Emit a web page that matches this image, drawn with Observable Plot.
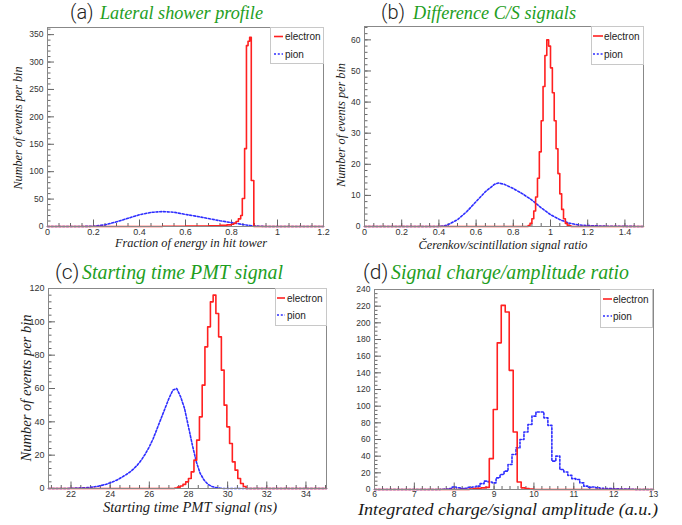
<!DOCTYPE html>
<html>
<head>
<meta charset="utf-8">
<script src="https://cdn.jsdelivr.net/npm/d3@7"></script>
<script src="https://cdn.jsdelivr.net/npm/@observablehq/plot@0.6"></script>
<style>
html,body{margin:0;padding:0;background:#fff;}
#chart{position:relative;width:682px;height:525px;overflow:hidden;background:#fff;}
#chart svg{position:absolute;}
</style>
</head>
<body>
<div id="chart"></div>
<script>
// ================= DATA =================
// ---- (a) Lateral shower profile ----
const aXTicks = [0, 0.2, 0.4, 0.6, 0.8, 1, 1.2];
const aYTicks = [0, 50, 100, 150, 200, 250, 300, 350];
const aElectronX = [0, 0.50, 0.60, 0.70, 0.75, 0.78, 0.80, 0.81, 0.82, 0.83, 0.84, 0.847, 0.857, 0.865, 0.872, 0.879, 0.886, 0.897, 1.2];
const aElectronY = [0, 0.5, 1, 1.5, 2, 3, 4, 6, 9, 14, 20, 51, 142, 330, 338, 345, 84, 0, 0];
const aPionX = [0, 0.15, 0.2, 0.25, 0.3, 0.35, 0.4, 0.45, 0.5, 0.55, 0.6, 0.65, 0.7, 0.75, 0.8, 0.85, 0.9, 0.95, 1.2];
const aPionY = [0, 0, 0.5, 3, 8.5, 15, 21.5, 25.7, 27.3, 26, 22, 18.5, 14.5, 10.5, 7, 3.6, 0.8, 0, 0];

// ---- (b) Difference C/S signals ----
const bXTicks = [0, 0.2, 0.4, 0.6, 0.8, 1, 1.2, 1.4];
const bYTicks = [0, 10, 20, 30, 40, 50, 60];
const bElectronX = [0, 0.88, 0.89, 0.90, 0.91, 0.92, 0.93, 0.94, 0.95, 0.96, 0.97, 0.98, 0.99, 1.00, 1.01, 1.02, 1.03, 1.04, 1.05, 1.06, 1.07, 1.08, 1.09, 1.10, 1.11, 1.5];
const bElectronY = [0, 0.3, 1, 2.5, 5, 9.5, 15.5, 24, 34, 45, 55, 60, 58, 51, 43, 34, 25, 17, 10.5, 5.5, 2.5, 1, 0.4, 0.2, 0, 0];
const bPionX = [0, 0.40, 0.43, 0.45, 0.5, 0.55, 0.6, 0.65, 0.7, 0.72, 0.75, 0.8, 0.85, 0.9, 0.95, 1.0, 1.05, 1.1, 1.15, 1.2, 1.3, 1.4, 1.5];
const bPionY = [0, 0, 0.2, 0.6, 2.2, 4.8, 8, 11.2, 13.6, 14, 13.6, 12.2, 10.5, 8.5, 6, 3.8, 2.2, 1.1, 0.5, 0.3, 0.1, 0.05, 0];

// ---- (c) Starting time PMT signal ----
const cXTicks = [22, 24, 26, 28, 30, 32, 34];
const cYTicks = [0, 20, 40, 60, 80, 100, 120];
const cElectronX = [20.85, 27.30, 27.44, 27.58, 27.72, 27.86, 28.00, 28.14, 28.28, 28.42, 28.56, 28.70, 28.84, 28.98, 29.12, 29.26, 29.40, 29.54, 29.68, 29.82, 29.96, 30.10, 30.24, 30.38, 30.52, 30.66, 30.80, 30.94, 35.05];
const cElectronY = [0, 0.3, 0.8, 1.5, 2.5, 4, 6, 10, 17, 29, 43, 62, 85, 97, 112, 116, 105, 91, 71, 50, 37, 27, 16, 11, 6, 3, 1.2, 0, 0];
const cPionX = [20.85, 21.8, 22.0, 22.2, 22.4, 22.6, 22.8, 23.0, 23.2, 23.4, 23.6, 23.8, 24.0, 24.2, 24.4, 24.6, 24.8, 25.0, 25.2, 25.4, 25.6, 25.8, 26.0, 26.2, 26.4, 26.6, 26.8, 27.0, 27.2, 27.4, 27.6, 27.8, 28.0, 28.2, 28.4, 28.6, 28.8, 29.0, 29.2, 29.4, 29.6, 29.8, 35.05];
const cPionY = [0, 0, 0.1, 0.2, 0.3, 0.4, 0.5, 0.7, 1.0, 1.4, 2.0, 2.6, 3.4, 4.3, 5.4, 6.8, 8.2, 9.8, 11.8, 14.2, 17.2, 20.8, 25, 30, 36, 42, 48, 54, 59, 60, 55, 48, 37, 26, 16, 9, 5, 2.5, 1.2, 0.5, 0.2, 0, 0];

// ---- (d) Signal charge/amplitude ratio ----
const dXTicks = [6, 7, 8, 9, 10, 11, 12, 13];
const dYTicks = [0, 20, 40, 60, 80, 100, 120, 140, 160, 180, 200, 220, 240];
const dElectronX = [6, 8.38, 8.48, 8.58, 8.68, 8.78, 8.88, 8.98, 9.08, 9.18, 9.28, 9.38, 9.48, 9.58, 9.68, 9.78, 9.88, 9.98, 13];
const dElectronY = [0, 0.5, 1, 1.5, 2, 2.5, 37, 96, 176, 221, 213, 143, 69, 9, 2, 1, 0.5, 0, 0];
const dPionX = [6, 7.6, 7.7, 7.8, 7.9, 8.0, 8.1, 8.2, 8.3, 8.4, 8.5, 8.6, 8.7, 8.8, 8.9, 9.0, 9.1, 9.2, 9.3, 9.4, 9.5, 9.6, 9.7, 9.8, 9.9, 10.0, 10.1, 10.2, 10.3, 10.4, 10.5, 10.6, 10.7, 10.8, 10.9, 11.0, 11.1, 11.2, 11.3, 11.4, 11.5, 11.6, 11.7, 11.8, 11.9, 12.0, 12.1, 12.2, 12.3, 12.4, 12.5, 12.6, 13];
const dPionY = [0, 0, 0.3, 0.5, 1, 3, 2, 1, 1.5, 2.5, 3, 4, 7, 10, 9, 8, 14, 18, 22, 30, 42, 50, 60, 69, 78, 88, 93, 93, 86, 77, 34, 40, 24, 21, 17, 13, 12, 8, 4, 2.5, 3, 2, 1.5, 1, 1, 0.8, 0.7, 0.6, 0.6, 0.4, 0.3, 0, 0];

// ---- texts ----
const titlePrefixes = ["(a)", "(b)", "(c)", "(d)"];
const titleTexts = ["Lateral shower profile", "Difference C/S signals", "Starting time PMT signal", "Signal charge/amplitude ratio"];
const xLabels = ["Fraction of energy in hit tower", "\u010Cerenkov/scintillation signal ratio", "Starting time PMT signal (ns)", "Integrated charge/signal amplitude (a.u.)"];
const yLabels = ["Number of events per bin", "Number of events per bin", "Number of events per bin", null];
const legendLabels = ["electron", "pion"];

// ================= STYLE / LAYOUT =================
const RED = "#ff2020", BLUE = "#2e2eff", GREEN = "#1e9e1e";
const serif = "'Liberation Serif','Times New Roman',serif";
const sans = "'Liberation Sans',Arial,sans-serif";
const root = document.getElementById("chart");

const panels = [
  {left: 0, top: 0, width: 341, height: 262, ml: 47, mr: 18, mt: 27, mb: 36,
   xDomain: [0, 1.2], yDomain: [0, 363], xTicks: aXTicks, yTicks: aYTicks,
   xMinor: d3.range(0, 1.2001, 0.05), yMinor: d3.range(0, 361, 10),
   elec: [aElectronX, aElectronY], pion: [aPionX, aPionY], pionCurve: "linear", yFont: 8.5, xFont: 9, xPad: 2.5},
  {left: 341, top: 0, width: 341, height: 262, ml: 23, mr: 39, mt: 26, mb: 36,
   xDomain: [0, 1.5], yDomain: [0, 64.3], xTicks: bXTicks, yTicks: bYTicks,
   xMinor: d3.range(0, 1.5001, 0.05), yMinor: d3.range(0, 64.1, 2),
   elec: [bElectronX, bElectronY], pion: [bPionX, bPionY], pionCurve: "linear", yFont: 8.5, xFont: 9, xPad: 2.5},
  {left: 0, top: 262, width: 341, height: 263, ml: 48, mr: 15, mt: 26, mb: 37,
   xDomain: [20.85, 35.05], yDomain: [0, 120], xTicks: cXTicks, yTicks: cYTicks,
   xMinor: d3.range(21, 35.01, 0.5), yMinor: d3.range(0, 120.1, 4),
   elec: [cElectronX, cElectronY], pion: [cPionX, cPionY], pionCurve: "linear", yFont: 9, xFont: 9, xPad: 2.5},
  {left: 341, top: 262, width: 341, height: 263, ml: 33, mr: 29, mt: 27, mb: 36,
   xDomain: [6, 13], yDomain: [0, 240], xTicks: dXTicks, yTicks: dYTicks,
   xMinor: d3.range(6, 13.001, 0.2), yMinor: d3.range(0, 240.1, 5),
   elec: [dElectronX, dElectronY], pion: [dPionX, dPionY], pionCurve: "step", yFont: 8.5, xFont: 8.5, xPad: 1.5}
];

panels.forEach(p => {
  const svg = Plot.plot({
    width: p.width, height: p.height,
    marginLeft: p.ml, marginRight: p.mr, marginTop: p.mt, marginBottom: p.mb,
    x: {domain: p.xDomain}, y: {domain: p.yDomain},
    style: {background: "transparent", overflow: "visible", fontFamily: sans, color: "#333"},
    marks: [
      Plot.axisX(p.xMinor, {tickSize: -3, fill: "none", label: null, stroke: "#666"}),
      Plot.axisX(p.xTicks, {tickSize: -6.5, fill: "none", label: null, stroke: "#666"}),
      Plot.axisX(p.xTicks, {tickSize: 0, tickPadding: p.xPad, tickFormat: d => String(d), label: null, fontSize: p.xFont, fill: "#333"}),
      Plot.axisY(p.yMinor, {tickSize: -3.5, fill: "none", label: null, stroke: "#666"}),
      Plot.axisY(p.yTicks, {tickSize: -7, fill: "none", label: null, stroke: "#666"}),
      Plot.axisY(p.yTicks, {tickSize: 0, tickPadding: 4, tickFormat: d => String(d), label: null, fontSize: p.yFont, fill: "#333"}),
      Plot.line(d3.zip(p.pion[0], p.pion[1]), {curve: p.pionCurve, stroke: BLUE, strokeWidth: 1.6, strokeDasharray: "2,1.8"}),
      Plot.line(d3.zip(p.elec[0], p.elec[1]), {curve: "step-after", stroke: RED, strokeWidth: 1.6}),
      Plot.frame({stroke: "#888"})
    ]
  });
  svg.style.left = p.left + "px";
  svg.style.top = p.top + "px";
  root.appendChild(svg);
});

// ================= OVERLAY: titles, axis labels, legends =================
const ov = d3.select(root).append("svg").attr("width", 682).attr("height", 525)
  .style("left", "0px").style("top", "0px");

function txt(x, y, s, o = {}) {
  const t = ov.append("text").attr("x", x).attr("y", y).text(s)
    .attr("font-family", o.family || serif).attr("font-size", o.size).attr("fill", o.fill || "#1a1a1a");
  if (o.italic) t.attr("font-style", "italic");
  if (o.anchor) t.attr("text-anchor", o.anchor);
  if (o.weight) t.attr("font-weight", o.weight);
  if (o.len) t.attr("textLength", o.len).attr("lengthAdjust", "spacingAndGlyphs");
  if (o.rotate) t.attr("transform", `rotate(-90 ${x} ${y})`);
  return t;
}

// titles
const titlePos = [
  {px: 70, tx: 100, y: 19, size: 18.5, len: 163, psize: 20},
  {px: 381, tx: 413, y: 19, size: 18.5, len: 163, psize: 20},
  {px: 55, tx: 82, y: 279, size: 20, len: 201, psize: 21},
  {px: 363, tx: 391, y: 279, size: 20, len: 238, psize: 21}
];
titlePos.forEach((t, i) => {
  txt(t.px, t.y, titlePrefixes[i], {family: "Roboto, " + sans, weight: 300, size: t.psize, fill: "#222"});
  txt(t.tx, t.y, titleTexts[i], {size: t.size, italic: true, fill: GREEN, len: t.len});
});

// x axis labels
const xLabPos = [
  {x: 191, y: 247, size: 12.3, len: 152},
  {x: 503, y: 249, size: 12.3, len: 169},
  {x: 190, y: 512, size: 14.6, len: 174},
  {x: 508, y: 515, size: 17, len: 300}
];
xLabPos.forEach((l, i) => txt(l.x, l.y, xLabels[i], {size: l.size, italic: true, anchor: "middle", len: l.len}));

// y axis labels
const yLabPos = [
  {x: 22, y: 128, size: 12.2, len: 123},
  {x: 345, y: 125, size: 12.2, len: 124},
  {x: 31, y: 388, size: 14.5, len: 147}
];
yLabPos.forEach((l, i) => txt(l.x, l.y, yLabels[i], {size: l.size, italic: true, anchor: "middle", rotate: true, len: l.len}));

// legends
const legendPos = [
  {x: 270, y: 27, w: 53, h: 36, s0: 4, s1: 13, t: 15, e1: 9.5, e2: 27},
  {x: 591, y: 26, w: 52, h: 38, s0: 2, s1: 12, t: 13, e1: 10, e2: 28},
  {x: 275, y: 288, w: 51, h: 37, s0: 2, s1: 10, t: 12, e1: 10, e2: 27},
  {x: 600, y: 289, w: 52, h: 38, s0: 3, s1: 12, t: 13, e1: 10, e2: 27}
];
legendPos.forEach(L => {
  ov.append("rect").attr("x", L.x + 0.5).attr("y", L.y + 0.5).attr("width", L.w).attr("height", L.h)
    .attr("fill", "#fff").attr("stroke", "#c8c8c8");
  [[RED, null, L.e1], [BLUE, "2,1.8", L.e2]].forEach(([c, dash, ey], k) => {
    const ln = ov.append("line").attr("x1", L.x + L.s0).attr("x2", L.x + L.s1)
      .attr("y1", L.y + ey).attr("y2", L.y + ey).attr("stroke", c).attr("stroke-width", 1.6);
    if (dash) ln.attr("stroke-dasharray", dash);
    txt(L.x + L.t, L.y + ey + 3.6, legendLabels[k], {family: sans, size: 10, fill: "#222"});
  });
});
</script>
</body>
</html>
